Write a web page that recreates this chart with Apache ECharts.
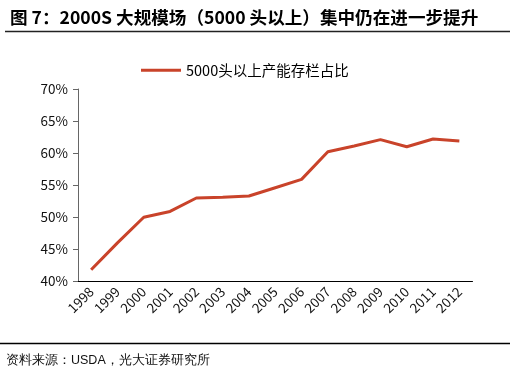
<!DOCTYPE html>
<html>
<head>
<meta charset="utf-8">
<script src="https://cdn.jsdelivr.net/npm/echarts@6/dist/echarts.min.js"></script>
<style>
  html, body { margin: 0; padding: 0; background: #fff; }
  #main { width: 516px; height: 376px; }
</style>
</head>
<body>
<div id="main"></div>
<script>
// 年份
var years = ['1998', '1999', '2000', '2001', '2002', '2003', '2004', '2005',
             '2006', '2007', '2008', '2009', '2010', '2011', '2012'];
// 5000头以上产能存栏占比（%）
var share = [41.8, 46.0, 50.0, 50.9, 53.0, 53.1, 53.3, 54.6,
             55.9, 60.2, 61.1, 62.1, 61.0, 62.2, 61.9];
var seriesName = '5000头以上产能存栏占比';

var dom = document.getElementById('main');
var myChart = echarts.init(dom);
var font = '"Noto Sans CJK SC", "Noto Sans", sans-serif';

var option = {
    textStyle: { fontFamily: font },
    title: {
        text: '图 7：2000S 大规模场（5000 头以上）集中仍在进一步提升',
        left: 5,
        top: 4,
        textStyle: { fontSize: 17.6, fontWeight: 'bold', color: '#000', fontFamily: font }
    },
    legend: {
        data: [seriesName],
        top: 58,
        left: 136,
        itemWidth: 40,
        itemHeight: 14,
        itemGap: 4,
        icon: 'path://M0,5.5 L40,5.5 L40,8.5 L0,8.5 Z',
        textStyle: { fontSize: 14.5, color: '#000', fontFamily: font }
    },
    grid: {
        left: 78,
        right: 43.5,
        top: 89,
        bottom: 94.7
    },
    xAxis: {
        type: 'category',
        data: years,
        boundaryGap: true,
        axisLine: { lineStyle: { color: '#000', width: 1 } },
        axisTick: { lineStyle: { color: '#000' }, length: 5 },
        axisLabel: { rotate: 45, fontSize: 13.5, color: '#111', margin: 8, interval: 0, fontFamily: font }
    },
    yAxis: {
        type: 'value',
        min: 40,
        max: 70,
        interval: 5,
        axisLine: { show: true, lineStyle: { color: '#666', width: 1 } },
        axisTick: { show: true, lineStyle: { color: '#666' }, length: 5 },
        splitLine: { show: false },
        axisLabel: { formatter: '{value}%', fontSize: 13.5, color: '#111', margin: 10, fontFamily: font }
    },
    series: [{
        name: seriesName,
        type: 'line',
        data: share,
        symbol: 'none',
        lineStyle: { color: '#C9432A', width: 3 },
        itemStyle: { color: '#C9432A' }
    }],
    graphic: [
        {
            type: 'line',
            shape: { x1: 5, y1: 31.5, x2: 510, y2: 31.5 },
            style: { stroke: '#222', lineWidth: 1.5 }
        },
        {
            type: 'line',
            shape: { x1: 0, y1: 343.5, x2: 510, y2: 343.5 },
            style: { stroke: '#000', lineWidth: 1.5 }
        },
        {
            type: 'text',
            left: 6,
            top: 354,
            style: { text: '资料来源：USDA，光大证券研究所', fontSize: 12.5, fill: '#111', font: '12.5px ' + font }
        }
    ]
};

myChart.setOption(option);
</script>
</body>
</html>
